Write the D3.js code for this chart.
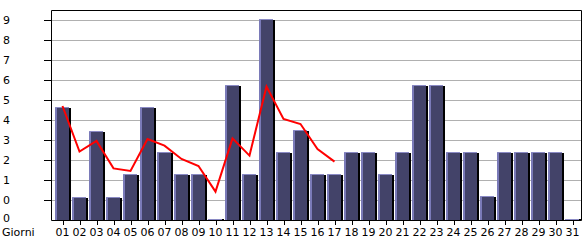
<!DOCTYPE html>
<html>
<head>
<meta charset="utf-8">
<script src="https://cdn.jsdelivr.net/npm/d3@7"></script>
<style>
  html, body { margin: 0; padding: 0; background: #fff; }
  svg { display: block; }
  text { font-family: "DejaVu Sans", sans-serif; font-size: 11px; fill: #000; }
</style>
</head>
<body>
<div id="chart"></div>
<script>
// Data
const days = ["01","02","03","04","05","06","07","08","09","10","11","12","13","14","15","16",
              "17","18","19","20","21","22","23","24","25","26","27","28","29","30","31"];
const barValues = [4.65, 0.17, 3.47, 0.17, 1.28, 4.65, 2.38, 1.28, 1.28, -0.95, 5.73, 1.28, 9.03, 2.38, 3.48, 1.28,
                   1.28, 2.38, 2.38, 1.28, 2.38, 5.73, 5.73, 2.38, 2.38, 0.18, 2.38, 2.38, 2.38, 2.38, -0.95];
const lineDays = ["01","02","03","04","05","06","07","08","09","10","11","12","13","14","15","16","17"];
const lineValues = [4.7, 2.42, 2.95, 1.58, 1.45, 3.05, 2.72, 2.05, 1.7, 0.42, 3.08, 2.22, 5.67, 4.05, 3.8, 2.55, 1.92];
const yTickValues = [-1, 0, 1, 2, 3, 4, 5, 6, 7, 8, 9];
const yTickLabels = ["0", "0", "1", "2", "3", "4", "5", "6", "7", "8", "9"];
const xAxisTitle = "Giorni";

const width = 585, height = 240;
const plot = { left: 51, right: 581, top: 10, bottom: 220 };

const svg = d3.select("#chart").append("svg")
  .attr("width", width)
  .attr("height", height);

const x = d3.scaleBand()
  .domain(days)
  .range([54, plot.right])
  .paddingInner(0)
  .paddingOuter(0);

const y = d3.scaleLinear()
  .domain([-1, 9.5])
  .range([plot.bottom, plot.top]);

// gridlines
svg.append("g")
  .selectAll("line")
  .data(yTickValues.filter(v => v >= 0))
  .enter().append("line")
  .attr("x1", plot.left).attr("x2", plot.right)
  .attr("y1", d => Math.round(y(d)) + 0.5).attr("y2", d => Math.round(y(d)) + 0.5)
  .attr("stroke", "#b0b0b0")
  .attr("stroke-width", 1);

// y tick marks + labels
const yt = svg.append("g");
yt.selectAll("line")
  .data(yTickValues.filter(v => v >= 0))
  .enter().append("line")
  .attr("x1", 44).attr("x2", plot.left)
  .attr("y1", d => Math.round(y(d)) + 0.5).attr("y2", d => Math.round(y(d)) + 0.5)
  .attr("stroke", "#000");
yt.selectAll("text")
  .data(yTickValues)
  .enter().append("text")
  .attr("x", 3)
  .attr("y", d => y(d) - (d < 0 ? 2 : 0))
  .attr("dy", "0.35em")
  .text((d, i) => yTickLabels[i]);

// bars
const bars = svg.append("g")
  .selectAll("g")
  .data(days.map((d, i) => ({ day: d, value: barValues[i] })))
  .enter().append("g");

const bx = d => Math.round(x(d.day));
const by = d => Math.round(y(d.value));

bars.append("rect")
  .attr("x", d => bx(d) + 15)
  .attr("y", d => Math.min(by(d) + 1, plot.bottom - 1))
  .attr("width", 2)
  .attr("height", d => Math.max(1, plot.bottom - by(d) - 1))
  .attr("fill", "#000");

bars.append("rect")
  .attr("x", d => bx(d) + 1)
  .attr("y", d => by(d))
  .attr("width", 14)
  .attr("height", d => Math.max(1, plot.bottom - by(d)))
  .attr("fill", "#434369");

bars.append("rect")
  .attr("x", d => bx(d) + 1)
  .attr("y", d => by(d))
  .attr("width", 2)
  .attr("height", d => Math.max(1, plot.bottom - by(d)))
  .attr("fill", "#7a7ab8");

bars.append("rect")
  .attr("x", d => bx(d) + 1)
  .attr("y", d => by(d))
  .attr("width", 14)
  .attr("height", 1)
  .attr("fill", "#8a8ac4");

// red line
const line = d3.line()
  .x((d, i) => x(lineDays[i]) + x.bandwidth() / 2)
  .y(d => y(d));

svg.append("path")
  .datum(lineValues)
  .attr("d", line)
  .attr("fill", "none")
  .attr("stroke", "#ff0000")
  .attr("stroke-width", 2);

// frame
svg.append("path")
  .attr("d", `M${plot.left + 0.5},${plot.top + 0.5}H${plot.right + 0.5}V${plot.bottom + 0.5}H${plot.left + 0.5}Z`)
  .attr("fill", "none")
  .attr("stroke", "#000")
  .attr("stroke-width", 1);

// x ticks + labels
const xt = svg.append("g");
xt.selectAll("line")
  .data(days)
  .enter().append("line")
  .attr("x1", d => Math.round(x(d) + x.bandwidth() / 2) + 0.5)
  .attr("x2", d => Math.round(x(d) + x.bandwidth() / 2) + 0.5)
  .attr("y1", plot.bottom).attr("y2", plot.bottom + 5)
  .attr("stroke", "#000");
xt.selectAll("text")
  .data(days)
  .enter().append("text")
  .attr("x", d => x(d) + x.bandwidth() / 2)
  .attr("y", 232)
  .attr("dy", "0.35em")
  .attr("text-anchor", "middle")
  .text(d => d);

svg.append("text")
  .attr("x", 2)
  .attr("y", 232)
  .attr("dy", "0.35em")
  .text(xAxisTitle);
</script>
</body>
</html>
